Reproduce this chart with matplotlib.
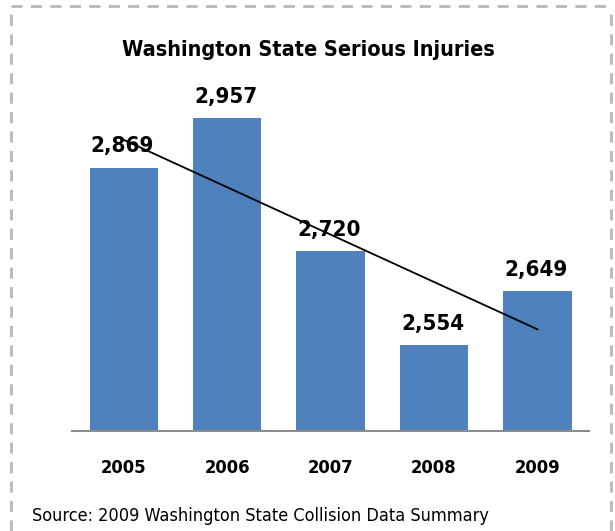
import numpy as np
import matplotlib
matplotlib.use("Agg")
import matplotlib.pyplot as plt
from matplotlib.lines import Line2D

years = ["2005", "2006", "2007", "2008", "2009"]
injuries = [2869, 2957, 2720, 2554, 2649]
value_labels = ["2,869", "2,957", "2,720", "2,554", "2,649"]
title = "Washington State Serious Injuries"
source = "Source: 2009 Washington State Collision Data Summary"

plt.rcParams['font.family'] = ['Liberation Sans Narrow', 'DejaVu Sans']
plt.rcParams['font.stretch'] = 'condensed'

fig = plt.figure(figsize=(6.15, 5.31), dpi=100)
ax = fig.add_axes([0.117, 0.188, 0.841, 0.635])

x = np.arange(len(years))
ax.bar(x, injuries, width=0.66, color="#4F81BD", zorder=2)

# linear trend line like Excel's
k, b = np.polyfit(x, injuries, 1)
ax.plot(x, k * x + b, color="black", lw=1.3, zorder=3)

for xi, v, lab in zip(x, injuries, value_labels):
    ax.annotate(lab, (xi, v), xytext=(-1, 8), textcoords="offset points",
                ha="center", va="bottom", fontsize=16, fontweight="bold")

ax.set_xlim(-0.5, 4.5)
ax.set_ylim(2400, 3000)
ax.set_xticks(x)
ax.set_xticklabels(years, fontsize=13.2, fontweight="bold")
ax.tick_params(axis="x", length=0, pad=20)
ax.set_yticks([])
for s in ["top", "right", "left"]:
    ax.spines[s].set_visible(False)
ax.spines["bottom"].set_color("#8c8c8c")
ax.spines["bottom"].set_linewidth(1.5)

fig.text(0.502, 0.905, title, ha="center", va="center", fontsize=15.5, fontweight="bold")
fig.text(0.052, 0.028, source, ha="left", va="center", fontsize=13)

# dashed frame
W, H = 615, 531
kw = dict(color="#b8b8b8", lw=2, ls=(0, (4, 3)), transform=fig.transFigure)
fig.add_artist(Line2D([11 / W, 11 / W], [0, 1 - 6 / H], **kw))
fig.add_artist(Line2D([11 / W, 611 / W], [1 - 6 / H, 1 - 6 / H], **kw))
fig.add_artist(Line2D([611 / W, 611 / W], [0, 1 - 6 / H], **kw))

fig.savefig("out.png", dpi=100)
